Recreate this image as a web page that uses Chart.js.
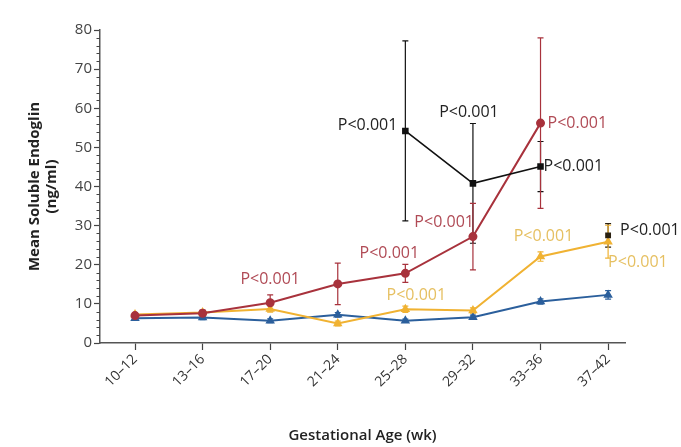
<!DOCTYPE html>
<html>
<head>
<meta charset="utf-8">
<script src="https://cdn.jsdelivr.net/npm/chart.js@4.4.1/dist/chart.umd.min.js"></script>
<style>
  html, body { margin: 0; padding: 0; background: #fff; }
  #wrap { width: 681px; height: 447px; }
</style>
</head>
<body>
<div id="wrap"><canvas id="c" width="681" height="447"></canvas></div>
<script>
// ---- data ----
const categories = ['10–12', '13–16', '17–20', '21–24', '25–28', '29–32', '33–36', '37–42'];
const redVals    = [7.0, 7.6, 10.3, 15.1, 17.8, 27.2, 56.2, null];
const redErr     = [0.6, 0.8, 2.0, 5.3, 2.3, 8.5, 21.8, null];
const yellowVals = [7.3, 7.8, 8.7, 5.0, 8.6, 8.3, 22.1, 25.9];
const yellowErr  = [0.5, 0.5, 0.8, 0.6, 0.8, 0.7, 1.2, 4.2];
const blueVals   = [6.3, 6.5, 5.7, 7.2, 5.7, 6.6, 10.6, 12.3];
const blueErr    = [0.5, 0.5, 0.5, 0.6, 0.4, 0.5, 0.7, 1.1];
const blackVals  = [null, null, null, null, 54.2, 40.8, 45.1, null];
const blackErr   = [null, null, null, null, 23.0, 15.3, 6.4, null];
const black2Vals = [null, null, null, null, null, null, null, 27.5];
const black2Err  = [null, null, null, null, null, null, null, 3.0];
const yTicks     = [0, 10, 20, 30, 40, 50, 60, 70, 80];
const pLabel     = 'P<0.001';

// annotation anchors: [series key, category index, text, offset]
const annotations = [
  ['red', 2, pLabel, { dx: 0, dy: -23, align: 'center' }],
  ['red', 4, pLabel, { dx: -16, dy: -20, align: 'center' }],
  ['red', 5, pLabel, { dx: 1, dy: -14, align: 'right' }],
  ['red', 6, pLabel, { dx: 7, dy: 0, align: 'left' }],
  ['black', 4, pLabel, { dx: -8, dy: -6, align: 'right' }],
  ['black', 5, pLabel, { dx: -4, dy: -71, align: 'center' }],
  ['black', 6, pLabel, { dx: 3, dy: 0, align: 'left' }],
  ['black2', 7, pLabel, { dx: 12, dy: -5, align: 'left' }],
  ['yellow', 4, pLabel, { dx: 11, dy: -14, align: 'center' }],
  ['yellow', 6, pLabel, { dx: 3, dy: -20, align: 'center' }],
  ['yellow', 7, pLabel, { dx: 0, dy: 21, align: 'left' }]
];

const COLORS = {
  red:    { line: '#a8323c', text: '#b04a55' },
  yellow: { line: '#f0b232', text: '#e6c062' },
  blue:   { line: '#2b5f9c', text: '#2b5f9c' },
  black:  { line: '#111111', text: '#222222' },
  black2: { line: '#2a2010', text: '#222222' }
};

const toXY = arr => arr.map((v, i) => ({ x: i, y: v }));

function ds(key, vals, errs, style, radius, width, order) {
  return {
    key, errs,
    data: toXY(vals),
    borderColor: COLORS[key].line,
    backgroundColor: COLORS[key].line,
    pointBackgroundColor: COLORS[key].line,
    pointBorderColor: COLORS[key].line,
    pointStyle: style,
    pointRadius: radius,
    borderWidth: width,
    showLine: key !== 'black2',
    spanGaps: false,
    tension: 0,
    order
  };
}

const errorBars = {
  id: 'errorBars',
  beforeDatasetsDraw(chart) {
    const ctx = chart.ctx, xs = chart.scales.x, ys = chart.scales.y;
    chart.data.datasets.forEach(d => {
      ctx.save();
      ctx.strokeStyle = COLORS[d.key].line;
      ctx.lineWidth = 1.2;
      d.data.forEach((p, i) => {
        const e = d.errs[i];
        if (p.y == null || e == null) return;
        const x = xs.getPixelForValue(p.x);
        const y1 = ys.getPixelForValue(p.y + e);
        const y2 = ys.getPixelForValue(p.y - e);
        ctx.beginPath();
        ctx.moveTo(x, y1); ctx.lineTo(x, y2);
        ctx.moveTo(x - 3, y1); ctx.lineTo(x + 3, y1);
        ctx.moveTo(x - 3, y2); ctx.lineTo(x + 3, y2);
        ctx.stroke();
      });
      ctx.restore();
    });
  }
};

const pLabels = {
  id: 'pLabels',
  beforeDatasetsDraw(chart) {
    const ctx = chart.ctx, xs = chart.scales.x, ys = chart.scales.y;
    const byKey = {};
    chart.data.datasets.forEach(d => byKey[d.key] = d);
    ctx.save();
    ctx.font = '400 16px "Open Sans", sans-serif';
    ctx.textBaseline = 'middle';
    annotations.forEach(([key, i, text, o]) => {
      const p = byKey[key].data[i];
      const x = xs.getPixelForValue(p.x) + o.dx;
      const y = ys.getPixelForValue(p.y) + o.dy;
      ctx.fillStyle = COLORS[key].text;
      ctx.textAlign = o.align;
      ctx.fillText(text, x, y);
    });
    ctx.restore();
  }
};

const minorTicks = {
  id: 'minorTicks',
  afterDraw(chart) {
    const ctx = chart.ctx, ys = chart.scales.y;
    const left = chart.chartArea.left;
    ctx.save();
    ctx.strokeStyle = '#444';
    ctx.lineWidth = 1;
    for (let v = 0; v <= 80; v += 2) {
      if (yTicks.includes(v)) continue;
      const y = Math.round(ys.getPixelForValue(v)) + 0.5;
      ctx.beginPath();
      ctx.moveTo(left - 3.5, y); ctx.lineTo(left, y);
      ctx.stroke();
    }
    ctx.restore();
  }
};

new Chart(document.getElementById('c'), {
  type: 'line',
  data: {
    datasets: [
      ds('black', blackVals, blackErr, 'rect', 3.5, 1.6, 0),
      ds('black2', black2Vals, black2Err, 'rect', 3, 1.6, 1),
      ds('red', redVals, redErr, 'circle', 3.5, 2, 2),
      ds('yellow', yellowVals, yellowErr, 'triangle', 3.5, 2, 3),
      ds('blue', blueVals, blueErr, 'triangle', 3.5, 2, 4)
    ]
  },
  options: {
    responsive: false,
    animation: false,
    devicePixelRatio: 1,
    layout: { padding: { top: 30, right: 56, bottom: 0, left: 0 } },
    plugins: { legend: { display: false }, tooltip: { enabled: false } },
    scales: {
      x: {
        type: 'linear',
        min: -0.518,
        max: 7.25,
        afterFit: s => { s.height = 104; },
        afterBuildTicks: s => { s.ticks = categories.map((c, i) => ({ value: i })); },
        ticks: {
          callback: v => categories[v],
          minRotation: 45,
          maxRotation: 45,
          padding: 1,
          color: '#333',
          font: { family: '"Open Sans", sans-serif', size: 14 }
        },
        grid: { drawOnChartArea: false, drawTicks: true, tickLength: 7, color: '#444', tickWidth: 1.2 },
        border: { color: '#555', width: 1.5 },
        title: {
          display: true,
          text: 'Gestational Age (wk)',
          color: '#222',
          font: { family: '"Open Sans", sans-serif', size: 15, weight: '600' },
          padding: { top: 0, bottom: 2 }
        }
      },
      y: {
        min: 0,
        max: 80,
        afterFit: s => { s.width = 100; },
        afterBuildTicks: s => { s.ticks = yTicks.map(v => ({ value: v })); },
        ticks: {
          padding: 2,
          color: '#444',
          font: { family: '"Open Sans", sans-serif', size: 15 }
        },
        grid: { drawOnChartArea: false, drawTicks: true, tickLength: 6, color: '#444', tickWidth: 1.2 },
        border: { color: '#555', width: 1.5 },
        title: {
          display: true,
          text: ['Mean Soluble Endoglin', '(ng/ml)'],
          color: '#222',
          font: { family: '"Open Sans", sans-serif', size: 15, weight: '700', lineHeight: 1.15 },
          padding: { top: 26, bottom: 0 }
        }
      }
    }
  },
  plugins: [errorBars, pLabels, minorTicks]
});
</script>
</body>
</html>
